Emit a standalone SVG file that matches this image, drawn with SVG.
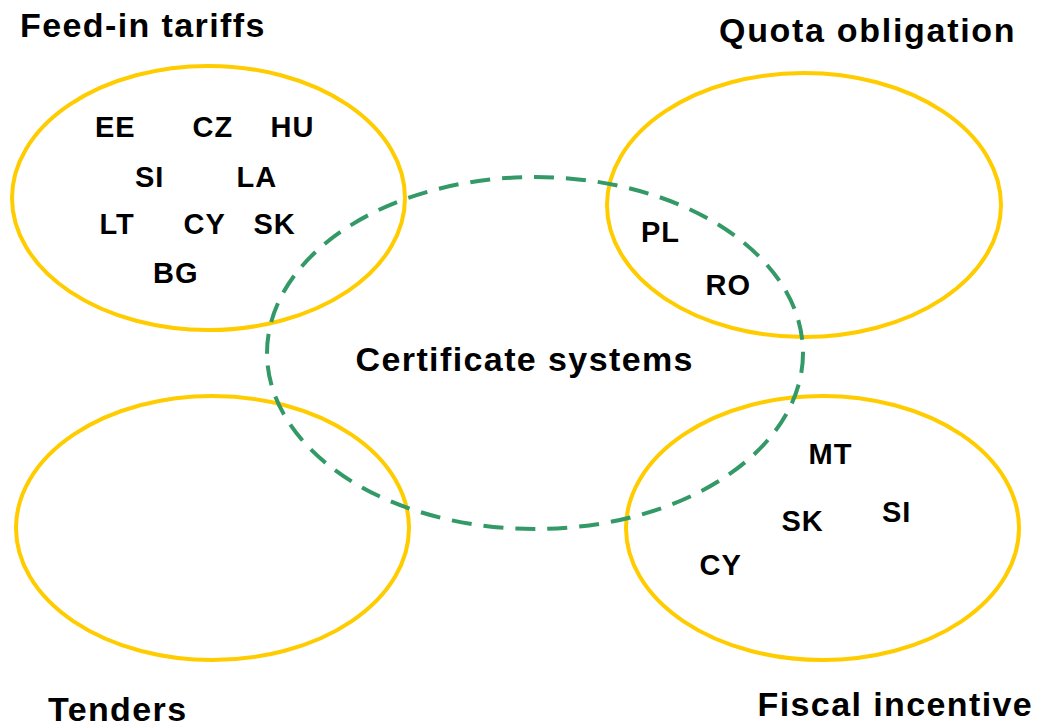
<svg xmlns="http://www.w3.org/2000/svg" width="1039" height="726" viewBox="0 0 1039 726">
<style>
.set{fill:none;stroke:#FFCC00;stroke-width:4}
.cert{fill:none;stroke:#339966;stroke-width:4;stroke-dasharray:20 12}
.title{font-family:"Liberation Sans",Arial,sans-serif;font-weight:bold;font-size:34px;letter-spacing:1.4px;fill:#000}
.code{font-family:"Liberation Sans",Arial,sans-serif;font-weight:bold;font-size:29px;letter-spacing:1px;fill:#000}
</style>
<rect width="1039" height="726" fill="#fff"/>
<g id="feed-in-tariffs">
<ellipse class="set" cx="208.5" cy="198" rx="196.5" ry="132"/>
<text class="title" x="20" y="37">Feed-in tariffs</text>
<text class="code" x="95" y="137">EE</text>
<text class="code" x="192.5" y="137">CZ</text>
<text class="code" x="270.5" y="137">HU</text>
<text class="code" x="135" y="187">SI</text>
<text class="code" x="236.5" y="187">LA</text>
<text class="code" x="99.5" y="234">LT</text>
<text class="code" x="183.5" y="234">CY</text>
<text class="code" x="253.5" y="234">SK</text>
<text class="code" x="153" y="282.5">BG</text>
</g>
<g id="quota-obligation">
<ellipse class="set" cx="804" cy="205" rx="197" ry="132"/>
<text class="title" x="719" y="42" style="letter-spacing:1.7px">Quota obligation</text>
<text class="code" x="641" y="242">PL</text>
<text class="code" x="705.5" y="294.5">RO</text>
</g>
<g id="tenders">
<ellipse class="set" cx="212.5" cy="528" rx="196.5" ry="132"/>
<text class="title" x="48" y="721">Tenders</text>
</g>
<g id="fiscal-incentive">
<ellipse class="set" cx="822.5" cy="528" rx="196.5" ry="132"/>
<text class="title" x="757.5" y="716">Fiscal incentive</text>
<text class="code" x="808.5" y="464">MT</text>
<text class="code" x="882" y="521.5">SI</text>
<text class="code" x="781.5" y="530.5">SK</text>
<text class="code" x="699.5" y="575">CY</text>
</g>
<g id="certificate-systems">
<ellipse class="cert" cx="535" cy="353" rx="268" ry="176"/>
<text class="title" x="355.5" y="371">Certificate systems</text>
</g>
</svg>
